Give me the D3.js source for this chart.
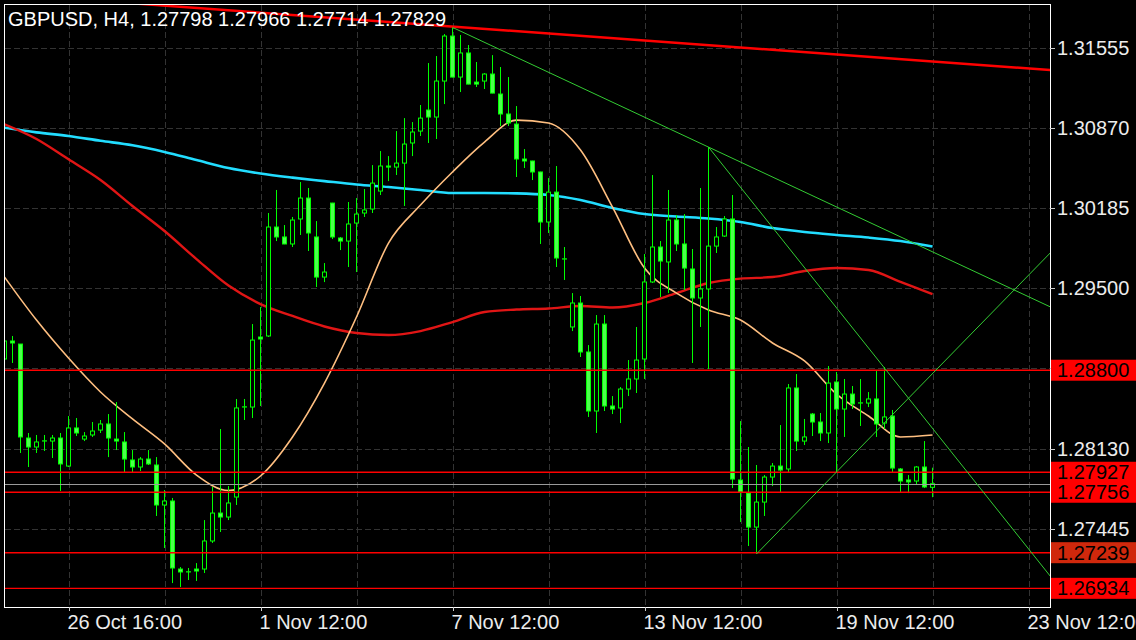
<!DOCTYPE html>
<html><head><meta charset="utf-8">
<script src="https://cdn.jsdelivr.net/npm/d3@7"></script>
<style>html,body{margin:0;padding:0;background:#000;overflow:hidden}</style>
</head><body>
<svg id="chart" width="1136" height="640"></svg>
<script>
const chartTitle = "GBPUSD, H4, 1.27798 1.27966 1.27714 1.27829";

const openP = [1.28896,1.29050,1.29024,1.28220,1.28143,1.28194,1.28194,1.28220,1.27980,1.28306,
1.28211,1.28246,1.28288,1.28340,1.28211,1.28186,1.28032,1.27972,1.28040,1.27989,
1.27647,1.27681,1.27099,1.27074,1.27099,1.27099,1.27339,1.27578,1.27544,1.27715,
1.28485,1.28485,1.29084,1.29093,1.30025,1.29940,1.29880,1.30094,1.30273,1.29940,
1.29597,1.30230,1.29931,1.29905,1.30059,1.30145,1.30179,1.30333,1.30547,1.30538,
1.30572,1.30744,1.30846,1.31026,1.30966,1.31274,1.31659,1.31308,1.31514,1.31265,
1.31274,1.31334,1.31163,1.30992,1.30906,1.30607,1.30590,1.30496,1.30068,1.30324,
1.29751,1.29170,1.29375,1.28956,1.28451,1.29195,1.28494,1.28477,1.28639,1.28725,
1.28896,1.29555,1.29854,1.29726,1.30085,1.29880,1.29666,1.29418,1.29495,1.29862,
1.29948,1.30094,1.27861,1.27749,1.27458,1.27672,1.27886,1.27980,1.27955,1.28648,
1.28194,1.28425,1.28357,1.28263,1.28699,1.28468,1.28596,1.28519,1.28519,1.28554,
1.28348,1.28408,1.27955,1.27861,1.27852,1.27972,1.27798];

const highP = [1.29075,1.29093,1.29024,1.28263,1.28246,1.28246,1.28246,1.28263,1.28408,1.28391,
1.28271,1.28357,1.28374,1.28425,1.28528,1.28271,1.28117,1.28057,1.28117,1.28057,
1.27775,1.27707,1.27116,1.27108,1.27150,1.27518,1.27801,1.28297,1.27809,1.28554,
1.28554,1.29195,1.29341,1.30145,1.30342,1.30042,1.30111,1.30410,1.30359,1.30076,
1.29717,1.30232,1.29940,1.30239,1.30273,1.30350,1.30555,1.30675,1.30632,1.30846,
1.30957,1.30923,1.31069,1.31428,1.31488,1.31676,1.31733,1.31668,1.31582,1.31437,
1.31342,1.31496,1.31394,1.31308,1.31060,1.30692,1.30592,1.30498,1.30444,1.30547,
1.29854,1.29460,1.29435,1.29015,1.29272,1.29272,1.28579,1.28656,1.28887,1.29170,
1.29794,1.30470,1.29905,1.30342,1.30128,1.30136,1.29837,1.30359,1.30709,1.30025,
1.30119,1.30299,1.28365,1.28143,1.27989,1.27903,1.28006,1.28331,1.28682,1.28767,
1.28383,1.28434,1.28434,1.28836,1.28785,1.28725,1.28665,1.28725,1.28613,1.28793,
1.28827,1.28460,1.27963,1.27903,1.27980,1.28194,1.27966];

const lowP = [1.28879,1.28862,1.28092,1.27972,1.28092,1.28109,1.28049,1.27767,1.27972,1.28237,
1.28194,1.28229,1.28263,1.28057,1.28117,1.27921,1.27921,1.27938,1.27989,1.27553,
1.27279,1.26979,1.26945,1.27005,1.26997,1.27065,1.27322,1.27416,1.27518,1.27647,
1.28374,1.28391,1.28494,1.29084,1.29905,1.29878,1.29854,1.29957,1.29820,1.29512,
1.29554,1.29922,1.29828,1.29683,1.29640,1.30111,1.30145,1.30299,1.30418,1.30470,
1.30205,1.30632,1.30804,1.30744,1.30778,1.31077,1.31306,1.31180,1.31246,1.31223,
1.31206,1.31169,1.30889,1.30889,1.30453,1.30530,1.30427,1.29880,1.29974,1.29683,
1.29572,1.29135,1.28913,1.28400,1.28263,1.28451,1.28425,1.28348,1.28579,1.28605,
1.28725,1.29546,1.29426,1.29460,1.29820,1.29486,1.28862,1.29170,1.28810,1.29803,
1.29940,1.27792,1.27501,1.27296,1.27228,1.27553,1.27809,1.27758,1.27929,1.28109,
1.28160,1.28237,1.28194,1.28177,1.27929,1.28229,1.28468,1.28323,1.28485,1.28229,
1.28297,1.27929,1.27758,1.27749,1.27818,1.27792,1.27714];

const closeP = [1.29050,1.29033,1.28229,1.28143,1.28186,1.28196,1.28220,1.27998,1.28306,1.28263,
1.28237,1.28280,1.28340,1.28220,1.28194,1.28040,1.27972,1.28040,1.27998,1.27647,
1.27681,1.27108,1.27074,1.27076,1.27082,1.27339,1.27578,1.27544,1.27664,1.28477,
1.28487,1.29058,1.29067,1.30025,1.29940,1.29880,1.30085,1.30273,1.29974,1.29597,
1.29640,1.29940,1.29905,1.30051,1.30136,1.30171,1.30401,1.30547,1.30538,1.30572,
1.30735,1.30838,1.30957,1.30966,1.31274,1.31659,1.31308,1.31514,1.31248,1.31248,
1.31334,1.31171,1.30992,1.30915,1.30607,1.30590,1.30496,1.30068,1.30324,1.29760,
1.29753,1.29375,1.28956,1.28451,1.29195,1.28494,1.28468,1.28639,1.28725,1.28887,
1.29555,1.29854,1.29734,1.30085,1.29880,1.29674,1.29418,1.29495,1.29862,1.29940,
1.30094,1.27869,1.27758,1.27458,1.27672,1.27886,1.27980,1.27946,1.28648,1.28194,
1.28229,1.28357,1.28263,1.28690,1.28468,1.28596,1.28511,1.28521,1.28554,1.28340,
1.28400,1.27963,1.27852,1.27844,1.27972,1.27801,1.27829];

// moving averages sampled every 4 bars (bars 0,4,...,116)
const maBars = [0,4,8,12,16,20,24,28,32,36,40,44,48,52,56,60,64,68,72,76,80,84,88,92,96,100,104,108,112,116];
const maSlow = [1.30875,1.30835,1.30804,1.30763,1.30724,1.30667,1.30598,1.30530,1.30483,1.30448,
1.30418,1.30389,1.30367,1.30342,1.30316,1.30316,1.30313,1.30299,1.30256,1.30188,
1.30136,1.30115,1.30098,1.30068,1.30016,1.29982,1.29957,1.29935,1.29905,1.29858];
const maMid = [1.30904,1.30778,1.30604,1.30427,1.30205,1.29991,1.29751,1.29524,1.29366,1.29264,
1.29174,1.29118,1.29101,1.29135,1.29212,1.29298,1.29319,1.29328,1.29349,1.29336,
1.29375,1.29460,1.29546,1.29584,1.29597,1.29649,1.29674,1.29657,1.29555,1.29452];
const maFast = [1.29597,1.29229,1.28904,1.28614,1.28383,1.28169,1.27903,1.27771,1.27895,1.28229,
1.28690,1.29255,1.29888,1.30213,1.30496,1.30752,1.30940,1.30915,1.30684,1.30196,
1.29674,1.29460,1.29315,1.29229,1.29033,1.28879,1.28596,1.28408,1.28229,1.28246];

const xTickBars = [8,32,56,80,104,128];
const xTickLabels = ["26 Oct 16:00","1 Nov 12:00","7 Nov 12:00","13 Nov 12:00","19 Nov 12:00","23 Nov 12:00"];
const gridBars = [8,20,32,44,56,68,80,92,104,116,128];
const yTicks = [1.31555,1.30870,1.30185,1.29500,1.28815,1.28130,1.27445];
const yTickLabels = ["1.31555","1.30870","1.30185","1.29500","1.28815","1.28130","1.27445"];
const levelPrices = [1.28800,1.27927,1.27756,1.27239,1.26934];
const levelLabels = ["1.28800","1.27927","1.27756","1.27239","1.26934"];
const bidPrice = 1.27829;

// trend lines: anchor bars / prices
const trendBar1 = [56,56,88,94];
const trendPrice1 = [1.31740,1.31733,1.30709,1.27228];
const trendBar2 = [130,88,130,130];
const trendPrice2 = [1.31372,1.30709,1.27100,1.29753];

// ---- styles ----
const trendColors = ["#ff0000","#33cc33","#33cc33","#33cc33"];
const trendWidths = [2.5,1,1,1];
const trendExtendLeft = [true,false,false,false];
const levelBoxColors = ["#ff0000","#ff0000","#ff0000","#d0280c","#ff0000"];
const FONT = "'Liberation Sans', Arial, sans-serif";

const svg = d3.select("#chart");
const plot = {left:5, top:5, right:1050, bottom:607};

svg.append("rect").attr("width",1136).attr("height",640).attr("fill","#000");

const x = d3.scaleLinear().domain([0,130]).range([4.5,1044.5]);
const y = d3.scaleLinear().domain([1.27445,1.31555]).range([528.6,48.2]);
const snap = v => Math.round(v) + 0.5;

svg.append("defs").append("clipPath").attr("id","plotclip")
  .append("rect").attr("x",plot.left).attr("y",plot.top)
  .attr("width",plot.right-plot.left).attr("height",plot.bottom-plot.top);

const g = svg.append("g").attr("clip-path","url(#plotclip)");

// grid
g.selectAll("line.vg").data(gridBars).enter().append("line")
  .attr("x1",d=>snap(x(d))).attr("x2",d=>snap(x(d)))
  .attr("y1",plot.top).attr("y2",plot.bottom)
  .attr("stroke","#333").attr("stroke-dasharray","6,3");
g.selectAll("line.hg").data(yTicks).enter().append("line")
  .attr("x1",plot.left).attr("x2",plot.right)
  .attr("y1",d=>snap(y(d))).attr("y2",d=>snap(y(d)))
  .attr("stroke","#333").attr("stroke-dasharray","6,3");

// title (under lines)
svg.append("text").attr("x",8).attr("y",26).attr("fill","#fff")
  .attr("font-family",FONT).attr("font-size",20).text(chartTitle);

// moving averages
const maLine = d3.line().x((d,i)=>x(maBars[i])).y(d=>y(d)).curve(d3.curveMonotoneX);
g.append("path").datum(maSlow).attr("d",maLine).attr("fill","none").attr("stroke","#22ddff").attr("stroke-width",2.6);
g.append("path").datum(maMid).attr("d",maLine).attr("fill","none").attr("stroke","#e01515").attr("stroke-width",2.4);
g.append("path").datum(maFast).attr("d",maLine).attr("fill","none").attr("stroke","#ffbf80").attr("stroke-width",1.6);

// candles
const idx = d3.range(openP.length);
g.selectAll("line.wick").data(idx).enter().append("line")
  .attr("x1",i=>x(i)).attr("x2",i=>x(i))
  .attr("y1",i=>y(highP[i])).attr("y2",i=>y(lowP[i]))
  .attr("stroke","#00ff00").attr("stroke-width",1);
g.selectAll("rect.body").data(idx).enter().append("rect")
  .attr("x",i=>x(i)-2).attr("width",4)
  .attr("y",i=>y(Math.max(openP[i],closeP[i])))
  .attr("height",i=>Math.abs(y(openP[i])-y(closeP[i])))
  .attr("fill",i=>closeP[i]>openP[i]?"#000":"#4dff4d")
  .attr("stroke","#00ff00").attr("stroke-width",1);

// horizontal levels
g.selectAll("line.lvl").data(levelPrices).enter().append("line")
  .attr("x1",plot.left).attr("x2",plot.right)
  .attr("y1",d=>y(d)).attr("y2",d=>y(d))
  .attr("stroke","#ff0000").attr("stroke-width",1.4);
g.append("line").attr("x1",plot.left).attr("x2",plot.right)
  .attr("y1",snap(y(bidPrice))).attr("y2",snap(y(bidPrice)))
  .attr("stroke","#9a9a9a").attr("stroke-width",1);

// trend lines
trendBar1.forEach((b1,i)=>{
  const m = (trendPrice2[i]-trendPrice1[i])/(trendBar2[i]-b1);
  const sb = trendExtendLeft[i] ? -20 : b1;
  const eb = 140;
  g.append("line")
    .attr("x1",x(sb)).attr("y1",y(trendPrice1[i]+m*(sb-b1)))
    .attr("x2",x(eb)).attr("y2",y(trendPrice1[i]+m*(eb-b1)))
    .attr("stroke",trendColors[i]).attr("stroke-width",trendWidths[i]);
});

// frame
svg.append("rect").attr("x",4.5).attr("y",4.5)
  .attr("width",1046).attr("height",603)
  .attr("fill","none").attr("stroke","#fff").attr("stroke-width",1);

// right axis
svg.selectAll("line.yt").data(yTicks).enter().append("line")
  .attr("x1",1050).attr("x2",1055)
  .attr("y1",d=>snap(y(d))).attr("y2",d=>snap(y(d)))
  .attr("stroke","#ccc");
svg.selectAll("text.yl").data(yTicks).enter().append("text")
  .attr("x",1057).attr("y",d=>y(d)+7)
  .attr("fill","#ececec").attr("font-family",FONT).attr("font-size",20)
  .text((d,i)=>yTickLabels[i]);

// level labels
levelPrices.forEach((v,i)=>{
  svg.append("rect").attr("x",1051).attr("y",y(v)-10.5)
    .attr("width",85).attr("height",21).attr("fill",levelBoxColors[i]);
  svg.append("text").attr("x",1057).attr("y",y(v)+7)
    .attr("fill","#000").attr("font-family",FONT).attr("font-size",20)
    .text(levelLabels[i]);
});

// bottom axis
svg.selectAll("line.xt").data(xTickBars).enter().append("line")
  .attr("x1",d=>snap(x(d))).attr("x2",d=>snap(x(d)))
  .attr("y1",607).attr("y2",611).attr("stroke","#ccc");
svg.selectAll("text.xl").data(xTickBars).enter().append("text")
  .attr("x",d=>x(d)-1).attr("y",629)
  .attr("fill","#ececec").attr("font-family",FONT).attr("font-size",20)
  .text((d,i)=>xTickLabels[i]);
</script>
</body></html>
